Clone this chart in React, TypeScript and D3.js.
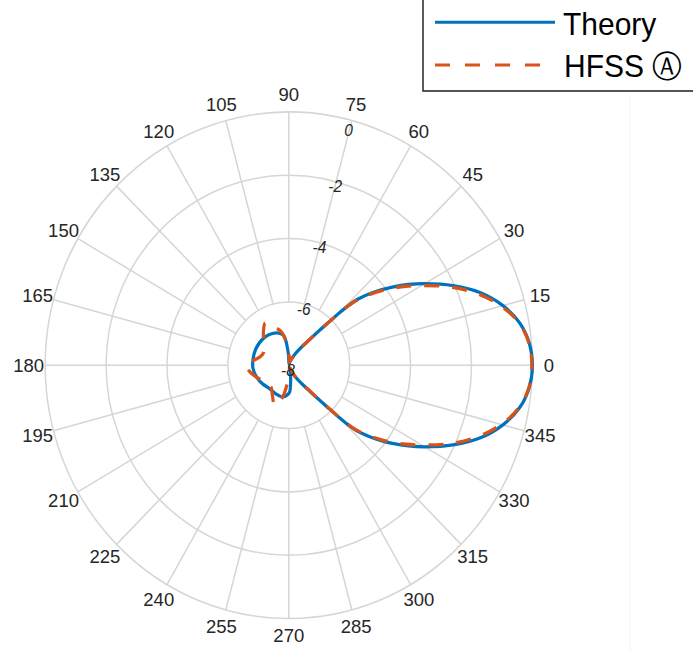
import React from 'react';
import * as d3 from 'd3';

// angle (deg) / gain (dB)
const thetaTheory = [0, 5, 10, 15, 20, 25, 30, 33, 36, 38, 40, 42, 43, 44, 45, 46, 47.5, 50, 54, 60, 70, 80, 88, 93, 101, 115, 135, 155, 170, 185, 200, 215, 230, 245, 259, 268, 272, 277, 282, 290, 300, 306, 310, 312.5, 314, 315, 316, 317, 318, 320, 322, 324, 327, 330, 335, 340, 345, 350, 355];
const dbTheory = [0, -0.07, -0.3, -0.72, -1.3, -2.05, -2.85, -3.32, -3.8, -4.12, -4.45, -4.8, -5.0, -5.3, -5.7, -6.1, -6.5, -6.95, -7.3, -7.6, -7.85, -7.95, -7.9, -7.58, -7.03, -6.88, -6.81, -6.8, -6.81, -6.82, -6.88, -6.96, -7.03, -7.0, -6.98, -7.08, -7.16, -7.5, -7.75, -7.9, -7.6, -7.3, -6.95, -6.5, -6.1, -5.7, -5.3, -5.0, -4.8, -4.45, -4.12, -3.8, -3.32, -2.85, -2.05, -1.3, -0.72, -0.3, -0.07];

const thetaHfss = [0, 5, 10, 15, 20, 25, 30, 33, 36, 38, 40, 42, 43, 44, 45, 46, 47.5, 50, 54, 60, 70, 80, 88, 92, 98, 103, 112, 120, 127, 140, 155, 165, 180, 192, 210, 228, 240, 250, 258, 265, 272, 280, 290, 300, 306, 310, 312.5, 314, 315, 316, 317, 318, 320, 322, 324, 327, 330, 335, 340, 345, 350, 355];
const dbHfss = [-0.02, -0.08, -0.32, -0.78, -1.4, -2.15, -2.97, -3.42, -3.88, -4.2, -4.52, -4.85, -5.05, -5.35, -5.72, -6.1, -6.5, -6.95, -7.3, -7.62, -7.85, -7.9, -7.7, -7.61, -7.18, -6.92, -6.69, -6.46, -6.62, -6.92, -7.08, -7.01, -6.59, -6.75, -7.01, -7.11, -6.92, -6.65, -6.95, -7.41, -7.74, -7.88, -7.92, -7.62, -7.3, -6.95, -6.5, -6.1, -5.72, -5.35, -5.05, -4.85, -4.52, -4.2, -3.88, -3.42, -2.97, -2.15, -1.4, -0.78, -0.32, -0.08];

const rTicks = [-8, -6, -4, -2, 0];
const thetaTicks = d3.range(0, 360, 15);
const seriesNames = ['Theory', 'HFSS \u24B6'];

const W = 693;
const H = 652;
const SY = 1.04; // the picture is a little taller than wide
const cx = 288.8;
const cy = 351.2;
const R = 243.6;
const FONT = '"Liberation Sans", Arial, Helvetica, sans-serif';
const BLUE = '#0072BD';
const ORANGE = '#D95319';
const GRID = '#d6d6d6';

const r = d3.scaleLinear().domain([-8, 0]).range([0, R]).clamp(true);
const rad = (deg: number) => (deg * Math.PI) / 180;

const toXY = (deg: number, db: number): [number, number] => {
  const rr = r(db);
  return [cx + rr * Math.cos(rad(deg)), cy - rr * Math.sin(rad(deg))];
};

const line = d3.line<[number, number]>().curve(d3.curveCatmullRomClosed.alpha(0.5));

const App = () => {
  const theoryPath = line(thetaTheory.map((t, i) => toXY(t, dbTheory[i]))) || '';
  const hfssPath = line(thetaHfss.map((t, i) => toXY(t, dbHfss[i]))) || '';
  const rInner = r(-6);

  return (
    <div style={{ position: 'fixed', left: 0, top: 0 }}>
      <svg width={W} height={H} style={{ display: 'block', background: '#fff' }}>
        <line x1={630} x2={630} y1={95} y2={H} stroke="#f6f6f6" strokeWidth={1} />
        <g transform={`scale(1,${SY})`}>
          {/* rings */}
          {rTicks.filter(v => v > -8).map(v => (
            <circle key={v} cx={cx} cy={cy} r={r(v)} fill="none" stroke={GRID} strokeWidth={1.5} />
          ))}
          {/* spokes */}
          {thetaTicks.map(t => (
            <line
              key={t}
              x1={cx + rInner * Math.cos(rad(t))}
              y1={cy - rInner * Math.sin(rad(t))}
              x2={cx + R * Math.cos(rad(t))}
              y2={cy - R * Math.sin(rad(t))}
              stroke={GRID}
              strokeWidth={1.5}
            />
          ))}
          {/* theta labels */}
          {thetaTicks.map(t => (
            <text
              key={t}
              x={cx + (R + 16.5) * Math.cos(rad(t))}
              y={cy - (R + 16.5) * Math.sin(rad(t))}
              textAnchor="middle"
              dominantBaseline="central"
              fontFamily={FONT}
              fontSize={18.5}
              fill="#262626"
            >
              {t}
            </text>
          ))}

          <path d={theoryPath} fill="none" stroke={BLUE} strokeWidth={3.2} strokeLinejoin="round" />
          <path d={hfssPath} fill="none" stroke={ORANGE} strokeWidth={3.2} strokeDasharray="15 13" />

          {/* r labels along the 75 degree spoke */}
          {rTicks.map(v => {
            const outer = v === 0;
            const [ax, ay] = toXY(75, v);
            return (
              <text
                key={v}
                x={ax + (outer ? 1 : 6)}
                y={ay + (outer ? 10 : 5) / SY}
                textAnchor="end"
                dominantBaseline="central"
                fontFamily={FONT}
                fontStyle="italic"
                fontSize={15.5}
                fill="#262626"
              >
                {v}
              </text>
            );
          })}

          {/* legend */}
          <rect x={423} y={-10} width={300} height={97.5} fill="#fff" stroke="#262626" strokeWidth={1.5} />
          <line x1={435} x2={555} y1={21.4} y2={21.4} stroke={BLUE} strokeWidth={3} />
          <line x1={435} x2={545} y1={62.5} y2={62.5} stroke={ORANGE} strokeWidth={3} strokeDasharray="15 15" />
          <text x={563} y={33.7} fontFamily={FONT} fontSize={30} fill="#000">{seriesNames[0]}</text>
          <text x={564} y={74.3} fontFamily={FONT} fontSize={30} fill="#000">{seriesNames[1]}</text>
        </g>
      </svg>
    </div>
  );
};

export default App;
